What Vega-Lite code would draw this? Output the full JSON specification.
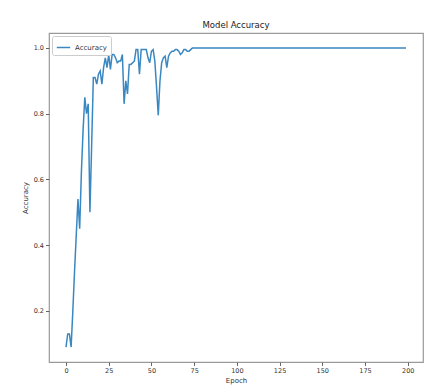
{
  "$schema": "https://vega.github.io/schema/vega-lite/v6.json",
  "autosize": "none",
  "width": 374,
  "height": 329,
  "padding": {"left": 49, "top": 33, "right": 7, "bottom": 30},
  "background": "white",
  "title": {"text": "Model Accuracy", "fontSize": 8.5, "font": "DejaVu Sans", "fontWeight": "normal", "color": "#222", "offset": 4, "anchor": "middle"},
  "config": {
    "view": {"stroke": "#9a9a9a", "strokeWidth": 1.2},
    "axis": {"domain": false, "grid": false, "labelFont": "DejaVu Sans", "titleFont": "DejaVu Sans", "labelFontSize": 6.5, "titleFontSize": 7, "labelColor": "#333", "titleColor": "#333", "titleFontWeight": "normal", "tickColor": "#666", "tickSize": 3.5, "labelPadding": 2}
  },
  "data": {"values": [
    {"epoch":0,"accuracy":0.09},{"epoch":1,"accuracy":0.13},{"epoch":2,"accuracy":0.13},{"epoch":3,"accuracy":0.09},
    {"epoch":4,"accuracy":0.2},{"epoch":5,"accuracy":0.32},{"epoch":6,"accuracy":0.43},{"epoch":7,"accuracy":0.54},
    {"epoch":8,"accuracy":0.45},{"epoch":9,"accuracy":0.62},{"epoch":10,"accuracy":0.75},{"epoch":11,"accuracy":0.85},
    {"epoch":12,"accuracy":0.8},{"epoch":13,"accuracy":0.83},{"epoch":14,"accuracy":0.5},{"epoch":15,"accuracy":0.7},
    {"epoch":16,"accuracy":0.91},{"epoch":17,"accuracy":0.91},{"epoch":18,"accuracy":0.89},{"epoch":19,"accuracy":0.92},
    {"epoch":20,"accuracy":0.93},{"epoch":21,"accuracy":0.89},{"epoch":22,"accuracy":0.94},{"epoch":23,"accuracy":0.97},
    {"epoch":24,"accuracy":0.94},{"epoch":25,"accuracy":0.98},{"epoch":26,"accuracy":0.935},{"epoch":27,"accuracy":0.98},
    {"epoch":28,"accuracy":0.98},{"epoch":29,"accuracy":0.97},{"epoch":30,"accuracy":0.955},{"epoch":31,"accuracy":0.96},
    {"epoch":32,"accuracy":0.96},{"epoch":33,"accuracy":0.98},{"epoch":34,"accuracy":0.83},{"epoch":35,"accuracy":0.9},
    {"epoch":36,"accuracy":0.86},{"epoch":37,"accuracy":0.95},{"epoch":38,"accuracy":0.95},{"epoch":39,"accuracy":0.955},
    {"epoch":40,"accuracy":0.96},{"epoch":41,"accuracy":0.995},{"epoch":42,"accuracy":0.995},{"epoch":43,"accuracy":0.92},
    {"epoch":44,"accuracy":0.995},{"epoch":45,"accuracy":0.995},{"epoch":46,"accuracy":0.995},{"epoch":47,"accuracy":0.995},
    {"epoch":48,"accuracy":0.97},{"epoch":49,"accuracy":0.955},{"epoch":50,"accuracy":0.99},{"epoch":51,"accuracy":0.995},
    {"epoch":52,"accuracy":0.96},{"epoch":53,"accuracy":0.88},{"epoch":54,"accuracy":0.795},{"epoch":55,"accuracy":0.9},
    {"epoch":56,"accuracy":0.955},{"epoch":57,"accuracy":0.97},{"epoch":58,"accuracy":0.975},{"epoch":59,"accuracy":0.94},
    {"epoch":60,"accuracy":0.975},{"epoch":61,"accuracy":0.985},{"epoch":62,"accuracy":0.99},{"epoch":63,"accuracy":0.99},
    {"epoch":64,"accuracy":0.995},{"epoch":65,"accuracy":0.995},{"epoch":66,"accuracy":0.99},{"epoch":67,"accuracy":0.98},
    {"epoch":68,"accuracy":0.985},{"epoch":69,"accuracy":0.995},{"epoch":70,"accuracy":0.995},{"epoch":71,"accuracy":0.99},
    {"epoch":72,"accuracy":0.99},{"epoch":73,"accuracy":0.995},{"epoch":74,"accuracy":1},{"epoch":75,"accuracy":1},
    {"epoch":76,"accuracy":1},{"epoch":77,"accuracy":1},{"epoch":78,"accuracy":1},{"epoch":79,"accuracy":1},
    {"epoch":80,"accuracy":1},{"epoch":81,"accuracy":1},{"epoch":82,"accuracy":1},{"epoch":83,"accuracy":1},
    {"epoch":84,"accuracy":1},{"epoch":85,"accuracy":1},{"epoch":86,"accuracy":1},{"epoch":87,"accuracy":1},
    {"epoch":88,"accuracy":1},{"epoch":89,"accuracy":1},{"epoch":90,"accuracy":1},{"epoch":91,"accuracy":1},
    {"epoch":92,"accuracy":1},{"epoch":93,"accuracy":1},{"epoch":94,"accuracy":1},{"epoch":95,"accuracy":1},
    {"epoch":96,"accuracy":1},{"epoch":97,"accuracy":1},{"epoch":98,"accuracy":1},{"epoch":99,"accuracy":1},
    {"epoch":100,"accuracy":1},{"epoch":101,"accuracy":1},{"epoch":102,"accuracy":1},{"epoch":103,"accuracy":1},
    {"epoch":104,"accuracy":1},{"epoch":105,"accuracy":1},{"epoch":106,"accuracy":1},{"epoch":107,"accuracy":1},
    {"epoch":108,"accuracy":1},{"epoch":109,"accuracy":1},{"epoch":110,"accuracy":1},{"epoch":111,"accuracy":1},
    {"epoch":112,"accuracy":1},{"epoch":113,"accuracy":1},{"epoch":114,"accuracy":1},{"epoch":115,"accuracy":1},
    {"epoch":116,"accuracy":1},{"epoch":117,"accuracy":1},{"epoch":118,"accuracy":1},{"epoch":119,"accuracy":1},
    {"epoch":120,"accuracy":1},{"epoch":121,"accuracy":1},{"epoch":122,"accuracy":1},{"epoch":123,"accuracy":1},
    {"epoch":124,"accuracy":1},{"epoch":125,"accuracy":1},{"epoch":126,"accuracy":1},{"epoch":127,"accuracy":1},
    {"epoch":128,"accuracy":1},{"epoch":129,"accuracy":1},{"epoch":130,"accuracy":1},{"epoch":131,"accuracy":1},
    {"epoch":132,"accuracy":1},{"epoch":133,"accuracy":1},{"epoch":134,"accuracy":1},{"epoch":135,"accuracy":1},
    {"epoch":136,"accuracy":1},{"epoch":137,"accuracy":1},{"epoch":138,"accuracy":1},{"epoch":139,"accuracy":1},
    {"epoch":140,"accuracy":1},{"epoch":141,"accuracy":1},{"epoch":142,"accuracy":1},{"epoch":143,"accuracy":1},
    {"epoch":144,"accuracy":1},{"epoch":145,"accuracy":1},{"epoch":146,"accuracy":1},{"epoch":147,"accuracy":1},
    {"epoch":148,"accuracy":1},{"epoch":149,"accuracy":1},{"epoch":150,"accuracy":1},{"epoch":151,"accuracy":1},
    {"epoch":152,"accuracy":1},{"epoch":153,"accuracy":1},{"epoch":154,"accuracy":1},{"epoch":155,"accuracy":1},
    {"epoch":156,"accuracy":1},{"epoch":157,"accuracy":1},{"epoch":158,"accuracy":1},{"epoch":159,"accuracy":1},
    {"epoch":160,"accuracy":1},{"epoch":161,"accuracy":1},{"epoch":162,"accuracy":1},{"epoch":163,"accuracy":1},
    {"epoch":164,"accuracy":1},{"epoch":165,"accuracy":1},{"epoch":166,"accuracy":1},{"epoch":167,"accuracy":1},
    {"epoch":168,"accuracy":1},{"epoch":169,"accuracy":1},{"epoch":170,"accuracy":1},{"epoch":171,"accuracy":1},
    {"epoch":172,"accuracy":1},{"epoch":173,"accuracy":1},{"epoch":174,"accuracy":1},{"epoch":175,"accuracy":1},
    {"epoch":176,"accuracy":1},{"epoch":177,"accuracy":1},{"epoch":178,"accuracy":1},{"epoch":179,"accuracy":1},
    {"epoch":180,"accuracy":1},{"epoch":181,"accuracy":1},{"epoch":182,"accuracy":1},{"epoch":183,"accuracy":1},
    {"epoch":184,"accuracy":1},{"epoch":185,"accuracy":1},{"epoch":186,"accuracy":1},{"epoch":187,"accuracy":1},
    {"epoch":188,"accuracy":1},{"epoch":189,"accuracy":1},{"epoch":190,"accuracy":1},{"epoch":191,"accuracy":1},
    {"epoch":192,"accuracy":1},{"epoch":193,"accuracy":1},{"epoch":194,"accuracy":1},{"epoch":195,"accuracy":1},
    {"epoch":196,"accuracy":1},{"epoch":197,"accuracy":1},{"epoch":198,"accuracy":1},{"epoch":199,"accuracy":1}
  ]},
  "mark": {"type": "line", "strokeWidth": 1.5, "interpolate": "linear"},
  "encoding": {
    "x": {"field": "epoch", "type": "quantitative", "title": "Epoch",
      "scale": {"domain": [-9.95, 208.95], "nice": false, "zero": false},
      "axis": {"values": [0, 25, 50, 75, 100, 125, 150, 175, 200], "titlePadding": 2}},
    "y": {"field": "accuracy", "type": "quantitative", "title": "Accuracy",
      "scale": {"domain": [0.0445, 1.0455], "nice": false, "zero": false},
      "axis": {"values": [0.2, 0.4, 0.6, 0.8, 1.0], "format": ".1f", "titlePadding": 5}},
    "color": {"datum": "Accuracy", "type": "nominal",
      "scale": {"range": ["#3a88c2"]},
      "legend": {"title": null, "orient": "top-left", "offset": 3, "symbolType": "stroke", "symbolSize": 180, "symbolStrokeWidth": 1.5,
        "labelFont": "DejaVu Sans", "labelFontSize": 7, "labelColor": "#333", "strokeColor": "#cccccc", "fillColor": "white", "padding": 4, "cornerRadius": 2}}
  }
}
